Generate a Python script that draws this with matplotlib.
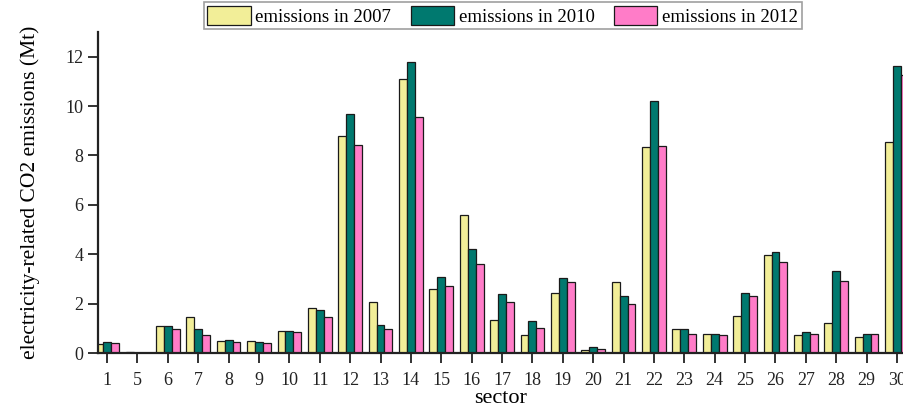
import numpy as np
import matplotlib
matplotlib.use("Agg")
from matplotlib import pyplot as plt

sectors = ["1", "5", "6", "7", "8", "9", "10", "11", "12", "13", "14", "15", "16",
           "17", "18", "19", "20", "21", "22", "23", "24", "25", "26", "27", "28",
           "29", "30"]
em_2007 = [0.36, 0.03, 1.10, 1.46, 0.47, 0.47, 0.89, 1.83, 8.79, 2.05, 11.10,
           2.60, 5.61, 1.32, 0.74, 2.43, 0.13, 2.86, 8.33, 0.97, 0.75, 1.48,
           3.96, 0.73, 1.21, 0.65, 8.53]
em_2010 = [0.43, 0.02, 1.10, 0.97, 0.54, 0.44, 0.90, 1.75, 9.70, 1.15, 11.79,
           3.09, 4.23, 2.40, 1.29, 3.05, 0.23, 2.29, 10.19, 0.97, 0.75, 2.43,
           4.10, 0.86, 3.34, 0.75, 11.62]
em_2012 = [0.40, 0.02, 0.97, 0.73, 0.46, 0.40, 0.84, 1.44, 8.42, 0.97, 9.56,
           2.70, 3.61, 2.08, 1.02, 2.86, 0.15, 1.97, 8.38, 0.78, 0.73, 2.32,
           3.69, 0.78, 2.91, 0.75, 11.25]

plt.rcParams['font.family'] = ['Liberation Serif', 'DejaVu Serif']

fig = plt.figure(figsize=(9.04, 4.12), dpi=100)
ax = fig.add_axes([0.1084, 0.1432, 0.8916, 0.779])

x = np.arange(len(sectors))
w = 0.26
series = [(em_2007, "#F2EE98", "emissions in 2007"),
          (em_2010, "#00796F", "emissions in 2010"),
          (em_2012, "#FF7CC8", "emissions in 2012")]
for i, (vals, col, lab) in enumerate(series):
    ax.bar(x + (i - 1) * w, vals, w, color=col, edgecolor="#1a1a1a",
           linewidth=0.9, label=lab)

ax.set_xlim(-0.3, 26.23)
ax.set_ylim(0, 13)
ax.set_yticks(range(0, 13, 2))
ax.set_xticks(x)
ax.set_xticklabels(sectors)
ax.tick_params(axis="both", direction="out", length=7, width=1.3,
               labelsize=13, colors="#222222")
ax.tick_params(axis="x", pad=7)
for side in ["top", "right"]:
    ax.spines[side].set_visible(False)
for side in ["left", "bottom"]:
    ax.spines[side].set_linewidth(1.6)
    ax.spines[side].set_color("#222222")

ax.set_xlabel("sector", fontsize=16, labelpad=0)
ax.set_ylabel("electricity-related CO2 emissions (Mt)", fontsize=15.5,
              labelpad=18)

leg = fig.legend(loc="upper center", bbox_to_anchor=(0.556, 0.995), ncol=3,
                 fontsize=13.5, frameon=True, fancybox=False, edgecolor="#888888",
                 handlelength=2.3, handleheight=1.2, columnspacing=1.05,
                 handletextpad=0.25, borderpad=0.2, borderaxespad=0.0)
leg.get_frame().set_linewidth(1.2)

fig.savefig("out.png", dpi=100)
